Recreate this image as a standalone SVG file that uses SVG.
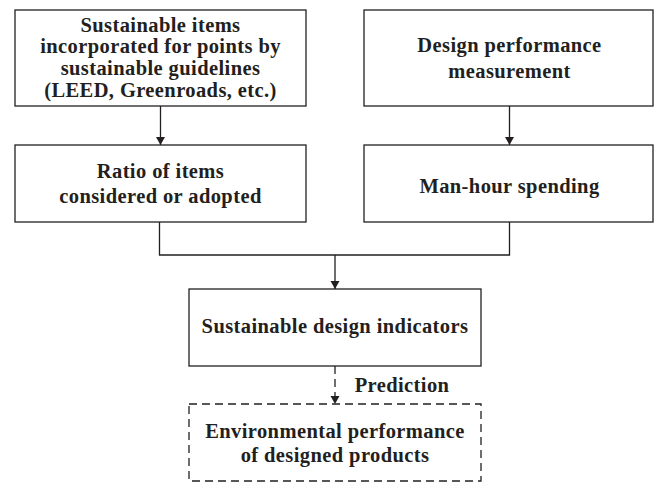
<svg xmlns="http://www.w3.org/2000/svg" width="655" height="483" viewBox="0 0 655 483">
<style>
.box{fill:#fff;stroke:#231f20;stroke-width:1.3}
.dash{fill:#fff;stroke:#231f20;stroke-width:1.3;stroke-dasharray:8,5}
.t{font-family:"Liberation Serif","Times New Roman","DejaVu Serif",serif;font-weight:bold;font-size:20.5px;letter-spacing:0.4px;fill:#231f20;text-anchor:middle}
.c{fill:none;stroke:#231f20;stroke-width:1.3}
</style>
<defs>
<marker id="ah" markerWidth="8" markerHeight="12" refX="8" refY="6" orient="auto" markerUnits="userSpaceOnUse">
<path d="M0,1.5 L8,6 L0,10.5 Z" fill="#231f20"/>
</marker>
</defs>
<rect width="655" height="483" fill="#fff"/>
<g id="connectors">
<line class="c" x1="160.5" y1="106" x2="160.5" y2="145" marker-end="url(#ah)"/>
<line class="c" x1="509.5" y1="106" x2="509.5" y2="145" marker-end="url(#ah)"/>
<polyline class="c" points="159.5,222 159.5,255 509.5,255 509.5,222"/>
<line class="c" x1="335" y1="255" x2="335" y2="289" marker-end="url(#ah)"/>
<line class="c" x1="335" y1="366" x2="335" y2="404" stroke-dasharray="8,5" marker-end="url(#ah)"/>
<text class="t" x="402" y="392">Prediction</text>
</g>
<g id="n1">
<rect class="box" x="15" y="10" width="291" height="96"/>
<text class="t" x="160.5" y="31.5">Sustainable items</text>
<text class="t" x="160.5" y="53.2">incorporated for points by</text>
<text class="t" x="160.5" y="74.9">sustainable guidelines</text>
<text class="t" x="160.5" y="96.6">(LEED, Greenroads, etc.)</text>
</g>
<g id="n2">
<rect class="box" x="364" y="10" width="289" height="96"/>
<text class="t" x="509.5" y="52">Design performance</text>
<text class="t" x="509.5" y="78">measurement</text>
</g>
<g id="n3">
<rect class="box" x="15" y="145" width="291" height="77"/>
<text class="t" x="160.5" y="178">Ratio of items</text>
<text class="t" x="160.5" y="203">considered or adopted</text>
</g>
<g id="n4">
<rect class="box" x="364" y="145" width="289" height="77"/>
<text class="t" x="509.5" y="193">Man-hour spending</text>
</g>
<g id="n5">
<rect class="box" x="189" y="289" width="292" height="77"/>
<text class="t" x="335" y="333">Sustainable design indicators</text>
</g>
<g id="n6">
<rect class="dash" x="189" y="404" width="292" height="77"/>
<text class="t" x="335" y="438">Environmental performance</text>
<text class="t" x="335" y="462">of designed products</text>
</g>
</svg>
